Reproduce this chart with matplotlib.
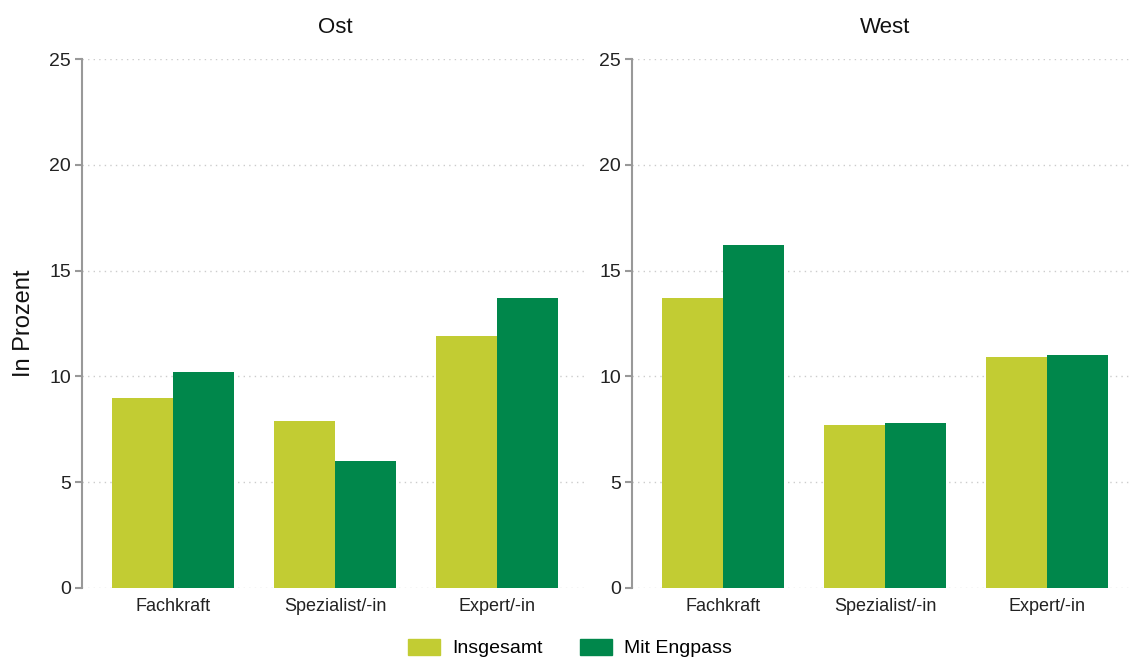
import numpy as np
import matplotlib
matplotlib.use('Agg')
import matplotlib.pyplot as plt
from matplotlib.patches import Patch

plt.rcParams['font.family'] = ['Liberation Sans', 'DejaVu Sans']

# data
categories = ['Fachkraft', 'Spezialist/-in', 'Expert/-in']
regions = ['Ost', 'West']
insgesamt = {'Ost': [9.0, 7.9, 11.9], 'West': [13.7, 7.7, 10.9]}
engpass = {'Ost': [10.2, 6.0, 13.7], 'West': [16.2, 7.8, 11.0]}
yticks = [0, 5, 10, 15, 20, 25]

colInsg = '#C2CC33'
colEng = '#00874B'
axisGray = '#999999'

fig = plt.figure(figsize=(11.3, 6.57), dpi=100)
# axes positions in figure fractions
axPos = {'Ost': [82/1130, 1 - 588/657, 506/1130, 529/657],
         'West': [632/1130, 1 - 588/657, 506/1130, 529/657]}

barW = 0.375
x = np.arange(len(categories))

for reg in regions:
    ax = fig.add_axes(axPos[reg])
    ax.bar(x - barW/2, insgesamt[reg], barW, color=colInsg, zorder=3)
    ax.bar(x + barW/2, engpass[reg], barW, color=colEng, zorder=3)
    ax.set_xlim(-0.56, 2.56)
    ax.set_ylim(0, 25)
    ax.set_yticks(yticks)
    ax.set_xticks(x)
    ax.set_xticklabels(categories, fontsize=13, color='#222222')
    ax.tick_params(axis='x', length=0, pad=7)
    ax.tick_params(axis='y', labelsize=14, length=5, color=axisGray,
                   width=1.5, pad=3, labelcolor='#222222')
    ax.yaxis.grid(True, linestyle=(0, (1, 3)), color='#cccccc', linewidth=1, zorder=0)
    for s in ['top', 'right', 'bottom']:
        ax.spines[s].set_visible(False)
    ax.spines['left'].set_color(axisGray)
    ax.spines['left'].set_linewidth(1.5)
    ax.set_title(reg, fontsize=16, pad=19, color='#111111')
    if reg == 'Ost':
        ax.set_ylabel('In Prozent', fontsize=17, labelpad=10, color='#111111')

handles = [Patch(color=colInsg, label='Insgesamt'), Patch(color=colEng, label='Mit Engpass')]
fig.legend(handles=handles, loc='center', bbox_to_anchor=(570/1130, 1 - 648/657),
           ncol=2, frameon=False, fontsize=14, handlelength=1.65, handleheight=0.9,
           columnspacing=1.9, handletextpad=0.62)

fig.savefig('out.png', dpi=100)
